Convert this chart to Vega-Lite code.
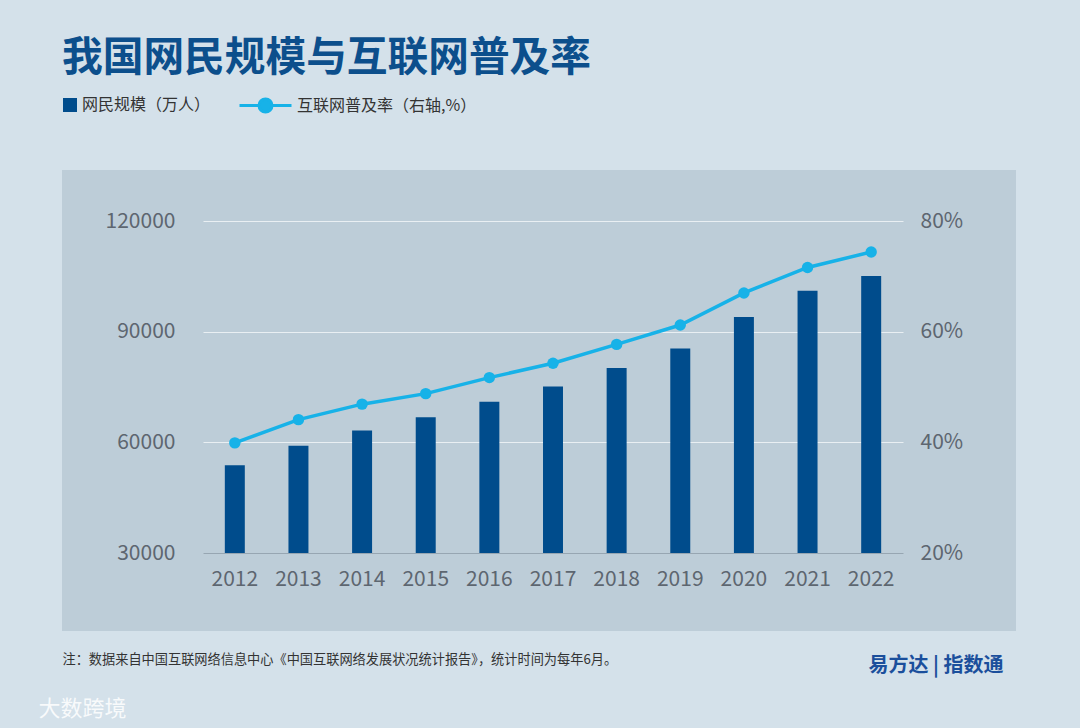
{
  "$schema": "https://vega.github.io/schema/vega-lite/v6.json",
  "width": 954,
  "height": 461,
  "autosize": {"type": "none"},
  "padding": {"left": 62, "top": 170, "right": 64, "bottom": 97},
  "background": "#d4e1ea",
  "title": {
    "text": "我国网民规模与互联网普及率",
    "anchor": "start",
    "frame": "group",
    "offset": -2,
    "fontSize": 40.7,
    "fontWeight": "bold",
    "color": "#0c4f8c",
    "font": "Noto Sans CJK SC"
  },
  "data": {
    "values": [
      {"year": "2012", "users": 53760, "rate": 39.9},
      {"year": "2013", "users": 59056, "rate": 44.1},
      {"year": "2014", "users": 63200, "rate": 46.9},
      {"year": "2015", "users": 66769, "rate": 48.8},
      {"year": "2016", "users": 71010, "rate": 51.7},
      {"year": "2017", "users": 75116, "rate": 54.3},
      {"year": "2018", "users": 80166, "rate": 57.7},
      {"year": "2019", "users": 85449, "rate": 61.2},
      {"year": "2020", "users": 93984, "rate": 67.0},
      {"year": "2021", "users": 101074, "rate": 71.6},
      {"year": "2022", "users": 105114, "rate": 74.4}
    ]
  },
  "encoding": {
    "x": {
      "field": "year",
      "type": "ordinal",
      "scale": {"range": [141, 841], "paddingInner": 0.686, "paddingOuter": 0.343},
      "axis": {
        "orient": "bottom",
        "offset": -78,
        "labelAngle": 0,
        "ticks": false,
        "domainColor": "#97a6b2",
        "domainWidth": 1,
        "labelPadding": 15,
        "labelFontSize": 21,
        "labelColor": "#5d6670",
        "title": "注：数据来自中国互联网络信息中心《中国互联网络发展状况统计报告》，统计时间为每年6月。",
        "titleX": 0,
        "titleY": 106,
        "titleAlign": "left",
        "titleBaseline": "middle",
        "titleFontSize": 13.2,
        "titleFontWeight": "normal",
        "titleColor": "#333333"
      }
    }
  },
  "layer": [
    {
      "mark": {"type": "bar"},
      "encoding": {
        "y": {
          "field": "users",
          "type": "quantitative",
          "scale": {"domain": [30000, 120000], "range": [383, 51], "zero": false, "nice": false},
          "axis": {
            "orient": "left",
            "offset": -141,
            "values": [30000, 60000, 90000, 120000],
            "format": "d",
            "grid": true,
            "gridColor": {"condition": {"test": "datum.value === 30000", "value": "transparent"}, "value": "#e9eff3"},
            "gridWidth": 1,
            "domain": false,
            "ticks": false,
            "labelPadding": 28,
            "labelFontSize": 21,
            "labelColor": "#5d6670",
            "title": "大数跨境",
            "titleAngle": 0,
            "titleX": -165,
            "titleY": 538,
            "titleAlign": "left",
            "titleBaseline": "middle",
            "titleFontSize": 22,
            "titleFontWeight": "normal",
            "titleColor": "#ffffff",
            "titleOpacity": 0.85
          }
        },
        "y2": {"datum": 30000},
        "fill": {
          "datum": "网民规模（万人）",
          "type": "nominal",
          "scale": {"range": ["#004c8c"]},
          "legend": {
            "orient": "none",
            "legendX": 0,
            "legendY": -73,
            "title": null,
            "padding": 0,
            "symbolType": "square",
            "symbolSize": 196,
            "symbolStrokeWidth": 0,
            "labelOffset": 4,
            "labelFontSize": 16,
            "labelLimit": 300,
            "labelColor": "#333333"
          }
        }
      }
    },
    {
      "encoding": {
        "y": {
          "field": "rate",
          "type": "quantitative",
          "scale": {"domain": [20, 80], "range": [383, 51], "zero": false, "nice": false},
          "axis": {
            "orient": "right",
            "offset": -113,
            "values": [20, 40, 60, 80],
            "labelExpr": "datum.value + '%'",
            "grid": false,
            "domain": false,
            "ticks": false,
            "labelPadding": 17,
            "labelFontSize": 21,
            "labelColor": "#5d6670",
            "title": "易方达 | 指数通",
            "titleAngle": 0,
            "titleX": -35,
            "titleY": 495,
            "titleAlign": "left",
            "titleBaseline": "middle",
            "titleFontSize": 20,
            "titleFontWeight": "bold",
            "titleColor": "#1b4f9c"
          }
        }
      },
      "layer": [
        {
          "mark": {"type": "line", "strokeWidth": 3.5},
          "encoding": {
            "stroke": {
              "datum": "互联网普及率（右轴,%）",
              "type": "nominal",
              "scale": {"range": ["#17b2e8"]},
              "legend": {
                "orient": "none",
                "legendX": 176,
                "legendY": -92,
                "title": null,
                "padding": 0,
                "symbolType": "M-1,0L-0.25,0M0.25,0L1,0M-0.25,0A0.25,0.25,0,1,1,0.25,0A0.25,0.25,0,1,1,-0.25,0Z",
                "symbolSize": 2704,
                "symbolStrokeWidth": 3,
                "symbolFillColor": "#17b2e8",
                "labelOffset": 4,
                "labelFontSize": 16,
                "labelLimit": 300,
                "labelColor": "#333333"
              }
            }
          }
        },
        {
          "mark": {"type": "point", "filled": true, "color": "#17b2e8", "size": 130, "opacity": 1}
        }
      ]
    }
  ],
  "resolve": {"scale": {"y": "independent"}},
  "config": {
    "font": "Noto Sans CJK SC",
    "view": {"fill": "#bdcdd8", "stroke": null},
    "axis": {"labelFont": "Noto Sans CJK SC", "titleFont": "Noto Sans CJK SC"},
    "legend": {"labelFont": "Noto Sans CJK SC"}
  }
}
